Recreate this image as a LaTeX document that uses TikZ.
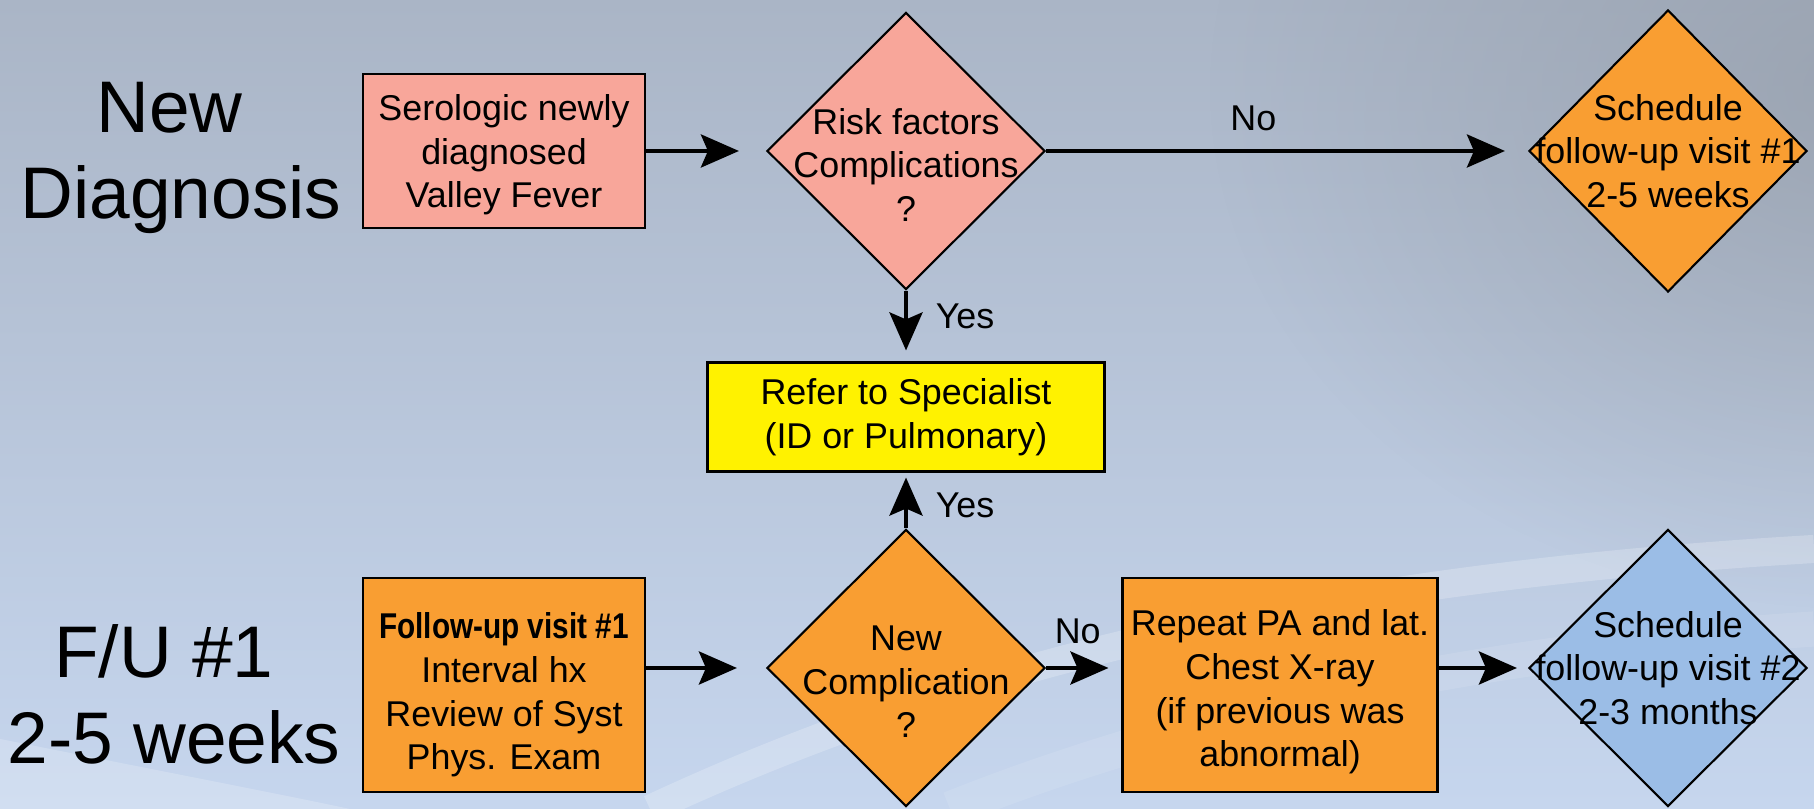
\documentclass[tikz,border=0pt]{standalone}
\usepackage{fontspec}
\setmainfont{Liberation Sans}
\newfontfamily\narrowbf[FakeStretch=0.83]{Liberation Sans}
\usetikzlibrary{shapes.geometric,arrows.meta,fadings}

\definecolor{salmon}{RGB}{248,166,154}
\definecolor{vforange}{RGB}{249,158,50}
\definecolor{vfyellow}{RGB}{255,242,0}
\definecolor{vfblue}{RGB}{155,189,230}
\definecolor{bgtop}{RGB}{170,181,198}
\definecolor{bgbot}{RGB}{198,214,238}
\definecolor{bgdark}{RGB}{148,156,168}

\tikzfading[name=fadecorner, inner color=transparent!0, outer color=transparent!100]

% strut that pushes a box text a little down
\newcommand{\pushdown}[1]{\rule{0pt}{#1}}

\begin{document}
\begin{tikzpicture}[>={Stealth[length=3.8mm,width=3.3mm,inset=0.7mm]},
    box/.style={draw, line width=0.6pt, inner sep=2pt, align=center, font=\fontsize{10.2}{12.4}\selectfont},
    decision/.style={draw, line width=0.6pt, shape=diamond, inner sep=0pt, minimum width=2.78cm, minimum height=2.77cm},
    dtext/.style={align=center, inner sep=0pt, font=\fontsize{10.2}{12.4}\selectfont},
    lbl/.style={inner sep=0pt, font=\fontsize{10.2}{12.4}\selectfont},
    side/.style={align=center, inner sep=0pt, font=\fontsize{20.8}{24.5}\selectfont},
    flow/.style={->, line width=1.2pt}]

    % background
    \useasboundingbox (0,0) rectangle (18.14,8.09);
    \shade[top color=bgtop, bottom color=bgbot] (0,0) rectangle (18.14,8.09);
    \fill[bgdark, opacity=0.7, path fading=fadecorner] (18.6,7.2) ellipse (6.5cm and 5.2cm);
    \fill[white, opacity=0.2] (0,0.7) .. controls (1.5,0.4) and (2.8,0.15) .. (3.5,0) -- (0,0) -- cycle;
    \draw[white, opacity=0.22, line width=8pt] (6.5,0) .. controls (9.5,1.4) and (13,2.3) .. (18.14,2.6);
    \draw[white, opacity=0.1, line width=10pt] (9.5,0) .. controls (12,1.0) and (15,1.6) .. (18.14,1.8);

    % row labels
    \node[side] (lab1) at (1.81,6.51) {New\hspace*{0.23cm}\\Diagnosis};
    \node[side] (lab2) at (1.74,1.15) {F/U \#1\hspace*{0.2cm}\\2-5 weeks};

    % top row
    \node[box, fill=salmon, minimum width=2.82cm, minimum height=1.54cm] (serol) at (5.04,6.58)
        {\pushdown{0.34cm}Serologic newly\\diagnosed\\Valley Fever};
    \node[decision, fill=salmon, label={[dtext, yshift=-0.14cm]center:{Risk factors\\Complications\\?}}] (risk) at (9.06,6.58) {};
    \node[decision, fill=vforange, minimum height=2.82cm, label={[dtext]center:{Schedule\\follow-up visit \#1\\2-5 weeks}}] (sched1) at (16.68,6.58) {};

    % middle
    \node[box, fill=vfyellow, minimum width=3.97cm, minimum height=1.09cm] (refer) at (9.06,3.92)
        {Refer to Specialist\\(ID or Pulmonary)};

    % bottom row
    \node[box, fill=vforange, minimum width=2.82cm, minimum height=2.14cm] (fu1) at (5.04,1.24)
        {\pushdown{0.46cm}{\narrowbf\bfseries Follow-up visit \#1}\\Interval hx\\Review of Syst\\Phys. Exam};
    \node[decision, fill=vforange, label={[dtext, yshift=-0.14cm]center:{New\\Complication\\?}}] (newcomp) at (9.06,1.41) {};
    \node[box, fill=vforange, minimum width=3.15cm, minimum height=2.14cm] (repeat) at (12.80,1.24)
        {\pushdown{0.40cm}Repeat PA and lat.\\Chest X-ray\\(if previous was\\abnormal)};
    \node[decision, fill=vfblue, label={[dtext]center:{Schedule\\follow-up visit \#2\\2-3 months}}] (sched2) at (16.68,1.41) {};

    \path[flow]
        (serol) edge[shorten >=0.27cm] (risk)
        (risk) edge[shorten >=0.23cm] node[lbl, pos=0.43, yshift=0.33cm] {No} (sched1)
        (risk) edge[shorten >=0.11cm] node[lbl, pos=0.36, xshift=0.59cm] {Yes} (refer)
        (newcomp) edge[shorten >=0.05cm] node[lbl, pos=0.41, xshift=0.59cm] {Yes} (refer)
        (fu1.east |- newcomp) edge[shorten >=0.29cm] (newcomp)
        (newcomp.east) edge[shorten >=0.13cm] node[lbl, pos=0.42, yshift=0.37cm] {No} (newcomp -| repeat.west)
        (repeat.east |- sched2) edge[shorten >=0.11cm] (sched2)
        ;
\end{tikzpicture}
\end{document}
